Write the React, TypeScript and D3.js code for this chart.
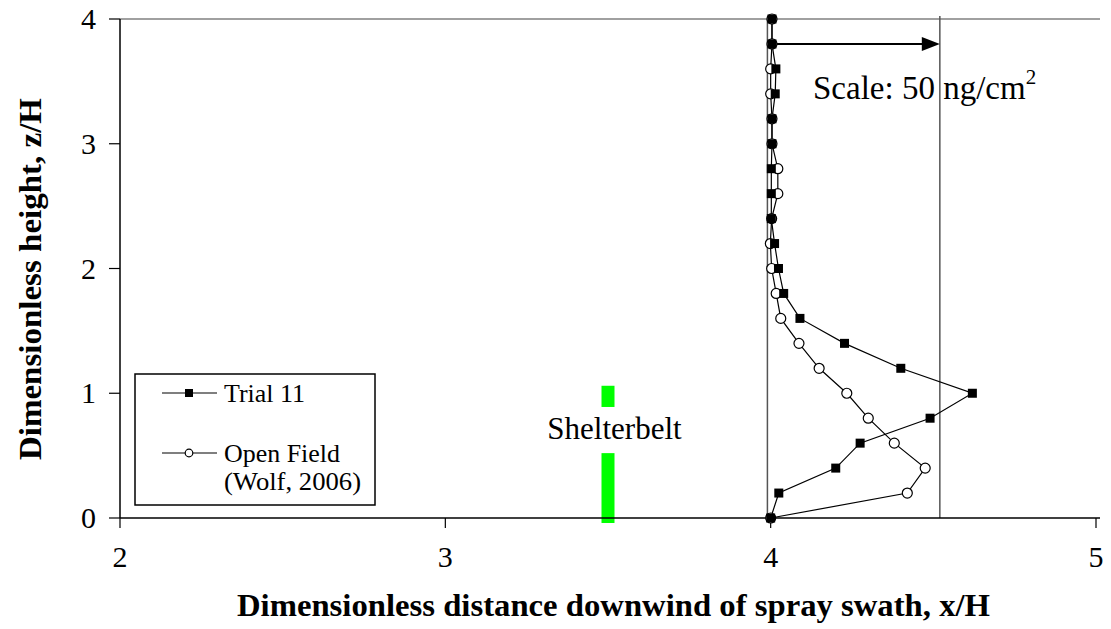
import React from "react";
import * as d3 from "d3";

const heights = [0, 0.2, 0.4, 0.6, 0.8, 1.0, 1.2, 1.4, 1.6, 1.8, 2.0, 2.2, 2.4, 2.6, 2.8, 3.0, 3.2, 3.4, 3.6, 3.8, 4.0];
const trial11 = [4.0, 4.025, 4.2, 4.275, 4.49, 4.62, 4.4, 4.227, 4.09, 4.04, 4.024, 4.012, 4.002, 4.002, 4.002, 4.004, 4.004, 4.014, 4.016, 4.004, 4.004];
const openField = [4.0, 4.42, 4.475, 4.38, 4.3, 4.234, 4.149, 4.087, 4.031, 4.017, 4.003, 3.999, 4.003, 4.022, 4.022, 4.004, 4.004, 4.0, 4.0, 4.004, 4.004];
const xTicks = [2, 3, 4, 5];
const yTicks = [0, 1, 2, 3, 4];
const refLines = [3.99, 4.52];
const scaleArrow = { z: 3.8, from: 4.01, to: 4.52, label: "Scale: 50 ng/cm", sup: "2" };
const shelterbelt = { x: 3.5, segments: [[-0.04, 0.52], [0.89, 1.06]], label: "Shelterbelt", labelX: 3.52, labelZ: 0.63 };
const seriesNames = ["Trial 11", "Open Field", "(Wolf, 2006)"];
const xTitle = "Dimensionless distance downwind of spray swath, x/H";
const yTitle = "Dimensionless height, z/H";

const W = 1111, H = 629;
const left = 120, right = 1096, top = 19, bottom = 518;
const FONT = "Liberation Serif, Times New Roman, DejaVu Serif, serif";

export default function App() {
  const x = d3.scaleLinear().domain([2, 5]).range([left, right]);
  const y = d3.scaleLinear().domain([0, 4]).range([bottom, top]);
  const t11 = heights.map((h, i) => [trial11[i], h] as [number, number]);
  const of = heights.map((h, i) => [openField[i], h] as [number, number]);
  const line = d3.line<[number, number]>().x(d => x(d[0])).y(d => y(d[1]));
  const ts: React.CSSProperties = { fontFamily: FONT };
  const sbW = 13;
  return (
    <svg width={W} height={H} style={{ position: "absolute", left: 0, top: 0, background: "#fff", fontFamily: FONT }}>
      <rect x={0} y={0} width={W} height={H} fill="#fff" />
      <line x1={left} x2={1100} y1={y(4)} y2={y(4)} stroke="#808080" strokeWidth={1.5} />
      {refLines.map((r, i) => (
        <line key={i} x1={x(r)} x2={x(r)} y1={y(0)} y2={i === 0 ? y(4) : y(4) - 3} stroke="#555" strokeWidth={1.5} />
      ))}
      {shelterbelt.segments.map((s, i) => (
        <rect key={i} x={x(shelterbelt.x) - sbW / 2} y={y(s[1])} width={sbW} height={y(s[0]) - y(s[1])} fill="#00ff00" />
      ))}
      <text style={ts} x={x(shelterbelt.labelX)} y={y(shelterbelt.labelZ)} fontSize={31} textAnchor="middle" fill="#000">{shelterbelt.label}</text>
      <line x1={left} x2={left} y1={top} y2={bottom} stroke="#000" strokeWidth={1.5} />
      <line x1={left} x2={1100} y1={bottom} y2={bottom} stroke="#000" strokeWidth={1.5} />
      {yTicks.map(t => (
        <g key={t}>
          <line x1={left - 11} x2={left} y1={y(t)} y2={y(t)} stroke="#000" strokeWidth={1.2} />
          <text style={ts} x={96} y={y(t) + 10} fontSize={30} textAnchor="end" fill="#000">{t}</text>
        </g>
      ))}
      {xTicks.map(t => (
        <g key={t}>
          <line x1={x(t)} x2={x(t)} y1={bottom} y2={bottom + 10} stroke="#000" strokeWidth={1.2} />
          <text style={ts} x={x(t)} y={567} fontSize={30} textAnchor="middle" fill="#000">{t}</text>
        </g>
      ))}
      <text style={ts} x={(237 + 990) / 2} y={616} fontSize={31} fontWeight="bold" textAnchor="middle" textLength={753} lengthAdjust="spacingAndGlyphs" fill="#000">{xTitle}</text>
      <text style={ts} transform={`translate(41,279) rotate(-90)`} fontSize={31} fontWeight="bold" textAnchor="middle" textLength={362} lengthAdjust="spacingAndGlyphs" fill="#000">{yTitle}</text>
      <line x1={x(scaleArrow.from)} x2={x(scaleArrow.to) - 16} y1={y(scaleArrow.z)} y2={y(scaleArrow.z)} stroke="#000" strokeWidth={2} />
      <path d={`M${x(scaleArrow.to)},${y(scaleArrow.z)} L${x(scaleArrow.to) - 18},${y(scaleArrow.z) - 7} L${x(scaleArrow.to) - 18},${y(scaleArrow.z) + 7} Z`} fill="#000" />
      <text style={ts} x={813} y={99} fontSize={33} fill="#000">
        {scaleArrow.label}
        <tspan fontSize={21} dy={-15}>{scaleArrow.sup}</tspan>
      </text>
      <path d={line(of) || ""} fill="none" stroke="#000" strokeWidth={1.2} />
      <path d={line(t11) || ""} fill="none" stroke="#000" strokeWidth={1.2} />
      {of.map((d, i) => (
        <circle key={"o" + i} cx={x(d[0])} cy={y(d[1])} r={5} fill="#fff" stroke="#000" strokeWidth={1.2} />
      ))}
      {t11.map((d, i) => (
        <rect key={"t" + i} x={x(d[0]) - 4.5} y={y(d[1]) - 4.5} width={9} height={9} fill="#000" />
      ))}
      <rect x={135} y={374} width={240} height={131} fill="#fff" stroke="#000" strokeWidth={1.5} />
      <line x1={162} x2={217} y1={393} y2={393} stroke="#000" strokeWidth={1.2} />
      <rect x={185} y={389} width={8} height={8} fill="#000" />
      <text style={ts} x={224} y={402} fontSize={25} fill="#000" textLength={81} lengthAdjust="spacingAndGlyphs">{seriesNames[0]}</text>
      <line x1={162} x2={217} y1={453} y2={453} stroke="#000" strokeWidth={1.2} />
      <circle cx={189} cy={453} r={3.8} fill="#fff" stroke="#000" strokeWidth={1.2} />
      <text style={ts} x={224} y={462} fontSize={25} fill="#000" textLength={116} lengthAdjust="spacingAndGlyphs">{seriesNames[1]}</text>
      <text style={ts} x={224} y={490} fontSize={25} fill="#000" textLength={137} lengthAdjust="spacingAndGlyphs">{seriesNames[2]}</text>
    </svg>
  );
}
